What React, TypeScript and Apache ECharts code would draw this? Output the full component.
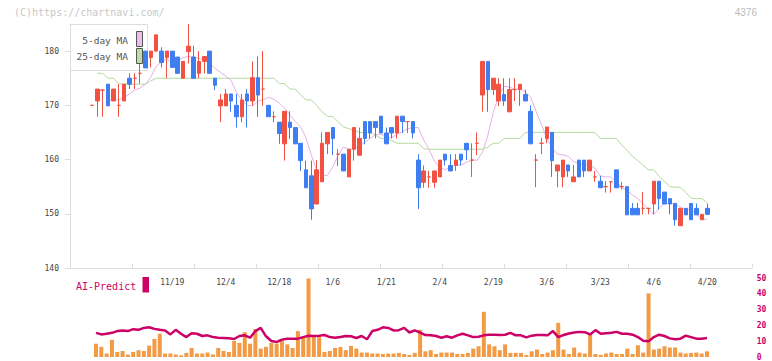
import React, { useEffect, useRef } from 'react';
import * as echarts from 'echarts';

// ---- Price data (one entry per trading day) ----
const OPEN = [
  170.0, 170.8, 172.8, 173.9, 170.8, 170.0, 170.8, 175.0, 175.0, 175.9,
  180.0, 178.8, 180.0, 180.0, 178.8, 180.0, 178.9, 175.0, 179.9, 178.9,
  175.9, 178.1, 180.0, 175.0, 169.9, 169.9, 172.1, 170.0, 167.9, 172.1,
  170.8, 175.1, 173.0, 170.0, 167.9, 166.9, 162.9, 166.9, 165.9, 163.0,
  158.1, 157.0, 151.8, 155.9, 162.9, 165.9, 161.0, 161.0, 156.8, 161.9,
  160.8, 167.0, 167.0, 167.0, 168.0, 164.9, 165.9, 164.9, 168.0, 167.0,
  167.0, 159.9, 155.8, 156.8, 155.8, 156.8, 161.0, 158.9, 158.9, 161.0,
  163.0, 159.9, 163.0, 171.9, 178.1, 172.9, 170.8, 172.0, 168.8, 172.9,
  172.9, 172.0, 168.9, 159.9, 163.0, 163.9, 165.0, 157.9, 156.8, 159.0,
  155.9, 159.9, 159.9, 157.9, 156.8, 156.0, 155.0, 155.9, 158.1, 155.0,
  155.0, 151.0, 151.0, 151.0, 151.0, 151.8, 156.0, 154.0, 152.8, 151.9,
  147.8, 151.0, 151.9, 151.0, 148.9, 151.0,
];
const CLOSE = [
  170.0, 173.0, 172.8, 169.9, 173.0, 170.0, 173.9, 173.9, 175.0, 175.9,
  176.9, 180.0, 183.0, 177.9, 180.0, 177.0, 175.9, 178.1, 180.9, 175.0,
  178.1, 179.0, 175.9, 173.7, 171.0, 172.1, 170.8, 167.9, 171.0, 170.8,
  175.1, 171.9, 173.0, 167.9, 167.9, 164.8, 168.9, 165.9, 162.9, 159.8,
  154.8, 150.9, 158.1, 163.0, 165.0, 163.9, 161.0, 157.9, 161.9, 165.9,
  163.9, 163.9, 164.9, 165.9, 164.9, 162.9, 164.9, 168.0, 167.0, 167.0,
  164.9, 154.8, 157.9, 156.8, 157.9, 159.9, 159.9, 157.9, 159.9, 159.9,
  161.8, 159.9, 163.0, 178.1, 172.9, 175.0, 173.9, 170.8, 172.9, 172.9,
  173.9, 170.8, 162.9, 159.9, 163.0, 166.0, 159.8, 159.0, 159.9, 157.9,
  156.8, 156.8, 157.9, 159.9, 156.8, 154.8, 155.0, 155.9, 154.8, 155.0,
  149.8, 149.8, 149.8, 151.0, 151.0, 156.0, 152.8, 151.8, 151.8, 148.9,
  151.0, 149.8, 148.9, 149.8, 149.9, 149.9,
];
const LOW = [
  169.9, 167.9, 167.9, 169.9, 170.8, 167.9, 170.8, 173.0, 173.0, 174.0,
  176.9, 177.0, 180.0, 177.0, 175.0, 177.0, 175.9, 175.0, 177.7, 175.0,
  175.0, 175.9, 175.9, 172.8, 166.9, 169.9, 168.8, 165.9, 166.9, 165.9,
  169.9, 167.9, 169.9, 167.9, 166.9, 162.9, 159.8, 163.8, 162.9, 157.9,
  154.8, 148.9, 151.8, 155.9, 161.0, 160.8, 158.8, 157.9, 156.8, 159.8,
  160.8, 162.8, 163.9, 163.9, 164.9, 162.9, 163.9, 163.9, 164.9, 164.9,
  163.9, 150.9, 154.8, 154.8, 154.8, 156.8, 158.9, 157.9, 157.9, 158.9,
  159.9, 156.8, 160.8, 168.8, 168.8, 171.9, 169.9, 169.9, 168.8, 170.8,
  169.9, 170.8, 162.9, 154.9, 161.0, 163.0, 156.8, 154.9, 154.9, 156.8,
  155.9, 156.8, 156.8, 157.9, 155.9, 154.8, 153.9, 153.9, 154.8, 154.5,
  149.8, 149.8, 149.8, 149.9, 149.9, 149.9, 150.8, 151.8, 149.9, 147.8,
  147.8, 149.8, 148.9, 149.8, 148.9, 149.9,
];
const HIGH = [
  170.1, 173.0, 173.0, 173.9, 173.0, 173.9, 173.9, 175.9, 175.9, 179.0,
  180.0, 180.0, 183.0, 180.7, 180.0, 180.0, 178.9, 178.1, 185.0, 181.0,
  180.0, 179.0, 180.0, 175.0, 172.1, 173.0, 172.1, 172.1, 172.1, 173.0,
  178.1, 179.0, 180.0, 170.0, 168.9, 166.9, 168.9, 168.9, 165.9, 163.0,
  159.8, 159.8, 159.9, 165.0, 165.0, 165.9, 161.9, 161.0, 161.9, 165.9,
  165.9, 167.0, 167.0, 167.0, 168.0, 165.9, 165.9, 168.0, 168.0, 167.0,
  167.0, 161.0, 158.9, 157.9, 157.9, 159.9, 161.0, 161.0, 161.0, 161.0,
  163.0, 163.0, 165.0, 178.1, 178.1, 175.0, 175.0, 175.0, 175.0, 175.0,
  173.9, 172.9, 170.0, 161.0, 164.0, 166.0, 165.0, 159.0, 159.9, 159.0,
  159.0, 159.9, 159.9, 159.9, 157.9, 157.0, 156.0, 155.9, 158.1, 155.9,
  155.0, 152.0, 152.0, 154.0, 151.0, 156.0, 156.0, 154.0, 152.8, 151.9,
  151.0, 151.0, 151.9, 151.9, 149.9, 151.9,
];

// ---- Moving averages ----
const MA5 = [
  '-', '-', '-', 171.0, 171.0, 171.0, 171.5, 172.1, 172.8, 173.2,
  173.9, 175.2, 177.2, 178.0, 178.6, 177.7, 178.2, 178.8, 179.0, 178.9,
  178.7, 178.3, 177.8, 176.8, 176.1, 175.4, 174.6, 172.4, 171.0, 170.0,
  169.9, 170.8, 171.0, 171.5, 171.1, 170.4, 169.5, 168.2, 167.0, 166.0,
  164.0, 160.8, 158.1, 157.0, 157.1, 158.6, 160.8, 162.3, 161.9, 161.9,
  162.5, 163.2, 163.9, 164.6, 164.7, 164.1, 164.0, 164.7, 165.1, 165.7,
  165.9, 165.9, 163.6, 161.9, 159.7, 158.6, 158.1, 158.6, 159.0, 159.0,
  159.5, 159.9, 159.9, 161.4, 164.5, 168.7, 171.7, 173.5, 173.4, 173.0,
  173.0, 172.5, 171.5, 168.9, 166.5, 163.9, 162.1, 161.0, 160.9, 160.6,
  159.7, 159.2, 159.0, 159.0, 158.4, 157.0, 156.8, 156.8, 155.9, 154.9,
  154.3, 153.5, 152.8, 151.9, 150.8, 149.9, 151.0, 151.9, 151.9, 151.9,
  151.2, 150.8, 150.7, 149.9, 149.0, 149.0,
];
const MA25 = [
  '-', 175.9, 175.9, 175.0, 175.0, 174.0, 173.9, 173.9, 173.9, 173.9,
  173.9, 174.5, 175.0, 175.0, 175.0, 175.0, 175.0, 175.0, 175.0, 175.0,
  175.0, 175.0, 175.0, 175.0, 175.0, 175.0, 175.0, 175.0, 175.0, 175.0,
  175.0, 175.0, 175.0, 175.0, 175.0, 174.0, 174.0, 173.0, 173.0, 171.9,
  171.0, 171.0, 170.0, 168.8, 168.0, 167.9, 167.0, 166.0, 165.7, 165.4,
  165.0, 165.0, 165.0, 164.5, 163.9, 163.9, 163.5, 163.0, 163.0, 163.0,
  163.0, 163.0, 162.0, 161.9, 161.9, 161.9, 161.9, 161.9, 161.9, 161.9,
  161.9, 161.9, 161.9, 161.9, 162.3, 163.0, 163.0, 163.9, 163.9, 163.9,
  163.9, 165.0, 165.0, 165.0, 165.0, 165.0, 165.0, 165.0, 165.0, 165.0,
  165.0, 165.0, 165.0, 165.0, 165.0, 163.9, 163.9, 163.9, 163.9, 162.7,
  161.7, 160.6, 159.8, 159.0, 158.1, 158.1, 156.9, 156.0, 155.0, 154.9,
  154.9, 153.9, 152.9, 152.8, 152.8, 152.0,
];

// ---- Lower panel ----
const VOLUME = [
  8.4, 6.4, 2.2, 10.9, 3.2, 3.8, 1.6, 3.2, 4.3, 3.8,
  7.2, 11.4, 14.7, 2.2, 2.2, 1.6, 1.0, 2.6, 5.7, 2.2,
  2.2, 2.8, 1.6, 5.7, 3.8, 3.2, 10.1, 8.9, 15.7, 8.4,
  17.8, 5.3, 6.4, 8.9, 8.4, 10.5, 8.0, 5.7, 16.4, 12.6,
  49.7, 13.6, 12.6, 3.2, 3.8, 5.7, 6.4, 4.3, 7.0, 5.3,
  2.8, 2.8, 2.2, 2.2, 1.9, 2.2, 2.2, 2.6, 1.9, 1.3,
  2.6, 17.2, 3.6, 4.3, 1.9, 2.8, 2.8, 2.8, 1.9, 1.9,
  2.6, 5.3, 6.8, 28.6, 8.0, 6.8, 4.3, 8.0, 2.6, 2.6,
  2.6, 1.3, 3.6, 4.7, 1.9, 2.8, 4.3, 21.6, 4.7, 1.9,
  6.0, 2.8, 2.2, 15.1, 1.9, 1.3, 2.2, 2.8, 1.9, 1.9,
  5.3, 1.9, 7.4, 2.8, 40.3, 4.7, 5.3, 6.8, 6.0, 6.0,
  2.8, 2.2, 2.6, 2.8, 2.2, 3.6,
];
const AI_PREDICT = [
  15.3, 14.3, 14.7, 15.3, 16.4, 16.8, 16.4, 17.6, 17.2, 18.4,
  18.8, 17.8, 17.2, 16.8, 14.3, 17.2, 14.7, 12.6, 15.1, 14.7,
  13.3, 13.7, 12.6, 12.2, 12.0, 11.8, 11.4, 13.3, 13.7, 12.2,
  16.4, 18.4, 13.1, 10.1, 9.5, 11.0, 11.6, 11.6, 11.6, 12.6,
  13.5, 13.3, 13.5, 13.9, 12.6, 12.2, 12.6, 13.3, 13.1, 12.0,
  13.3, 11.2, 16.4, 17.2, 18.8, 18.4, 16.8, 17.0, 18.4, 15.5,
  16.8, 15.5, 13.9, 13.7, 13.3, 12.2, 13.1, 12.2, 13.7, 14.7,
  13.7, 12.6, 12.8, 13.7, 14.1, 14.1, 13.9, 14.1, 15.3, 13.7,
  13.7, 12.4, 13.5, 13.9, 13.9, 13.7, 16.4, 12.6, 13.9, 14.9,
  15.5, 15.9, 15.7, 14.3, 17.0, 14.7, 15.1, 15.3, 15.9, 14.7,
  14.7, 14.1, 12.6, 10.3, 9.9, 12.6, 14.1, 13.3, 11.8, 11.2,
  11.6, 13.5, 12.6, 11.6, 11.6, 12.0,
];

// ---- Axis labels ----
const DATE_LABELS = ['11/19', '12/4', '12/18', '1/6', '1/21', '2/4', '2/19', '3/6', '3/23', '4/6', '4/20'];
const FIRST_LABEL_INDEX = 15;
const LABEL_STEP = 10;
const PRICE_TICKS = [140, 150, 160, 170, 180];
const SUB_TICKS = [0, 10, 20, 30, 40, 50];

const MONO = '"DejaVu Sans Mono", monospace';
const UP = '#f25242';
const DOWN = '#3f7ef1';
const MA5_COLOR = '#e6b0e6';
const MA25_COLOR = '#b2da9e';
const AI_COLOR = '#cc0066';
const VOL_COLOR = '#f29a44';
const AXIS_COLOR = '#dddddd';

export default function App() {
  const ref = useRef<HTMLDivElement>(null);

  useEffect(() => {
    document.body.style.margin = '0';
    if (!ref.current) return;
    const chart = echarts.init(ref.current, undefined, { renderer: 'svg' });

    const categories = OPEN.map((_, i) => String(i));
    const candles = OPEN.map((o, i) => [o, CLOSE[i], LOW[i], HIGH[i]]);
    const isLabelIndex = (i: number) => i >= FIRST_LABEL_INDEX && (i - FIRST_LABEL_INDEX) % LABEL_STEP === 0;

    const option: any = {
      animation: false,
      grid: [
        { left: 70, right: 20, top: 24, bottom: 93 },
        { left: 89.33, width: 620.6, top: 24, bottom: 93 },
        { left: 93.35, width: 616.3, top: 278, bottom: 3 },
      ],
      xAxis: [
        {
          gridIndex: 0, type: 'value', min: 0, max: 11, interval: 1,
          axisLine: { show: true, lineStyle: { color: AXIS_COLOR, width: 1 } },
          axisTick: { show: true, inside: true, length: 4, lineStyle: { color: AXIS_COLOR } },
          axisLabel: { show: false },
          splitLine: { show: false },
        },
        {
          gridIndex: 1, type: 'category', data: categories, boundaryGap: true,
          axisLine: { show: false }, axisTick: { show: false }, splitLine: { show: false },
          axisLabel: {
            interval: (i: number) => isLabelIndex(i),
            formatter: (_v: string, i: number) => (isLabelIndex(i) ? DATE_LABELS[(i - FIRST_LABEL_INDEX) / LABEL_STEP] : ''),
            fontSize: 8, fontFamily: MONO, color: '#444', margin: 10,
          },
        },
        { gridIndex: 2, type: 'category', data: categories, boundaryGap: true, show: false },
      ],
      yAxis: [
        {
          gridIndex: 0, type: 'value', min: 140, max: 185, interval: 10,
          axisLine: { show: true, lineStyle: { color: AXIS_COLOR } },
          axisTick: { show: true, length: 5, customValues: PRICE_TICKS, lineStyle: { color: AXIS_COLOR } },
          axisLabel: { customValues: PRICE_TICKS, fontSize: 8, fontFamily: MONO, color: '#444', margin: 11 },
          splitLine: { show: false },
        },
        { gridIndex: 1, type: 'value', min: 140, max: 185, show: false },
        {
          gridIndex: 2, type: 'value', min: 0, max: 50, interval: 10, position: 'right',
          axisLine: { show: false }, axisTick: { show: false }, splitLine: { show: false },
          axisLabel: {
            customValues: SUB_TICKS, fontSize: 8, fontFamily: MONO, fontWeight: 'bold',
            color: AI_COLOR, margin: 47, align: 'left',
          },
        },
      ],
      series: [
        {
          type: 'line', name: '25-day MA', xAxisIndex: 1, yAxisIndex: 1, data: MA25,
          showSymbol: false, lineStyle: { color: MA25_COLOR, width: 1 }, z: 1, silent: true,
        },
        {
          type: 'line', name: '5-day MA', xAxisIndex: 1, yAxisIndex: 1, data: MA5,
          showSymbol: false, lineStyle: { color: MA5_COLOR, width: 1 }, z: 1, silent: true,
        },
        {
          type: 'candlestick', xAxisIndex: 1, yAxisIndex: 1, data: candles, barWidth: 4, z: 2,
          itemStyle: {
            color: UP, color0: DOWN, borderColor: UP, borderColor0: DOWN,
            borderColorDoji: UP, borderWidth: 1,
          },
        },
        {
          type: 'bar', xAxisIndex: 2, yAxisIndex: 2, data: VOLUME, barWidth: 4,
          itemStyle: { color: VOL_COLOR }, z: 2,
        },
        {
          type: 'line', name: 'AI-Predict', xAxisIndex: 2, yAxisIndex: 2, data: AI_PREDICT,
          showSymbol: false, lineStyle: { color: AI_COLOR, width: 2.5 }, z: 3,
        },
      ],
      graphic: [
        {
          type: 'text', x: 14, y: 12,
          style: { text: '(C)https://chartnavi.com/', fill: '#c8c8c8', font: `10px ${MONO}`, textVerticalAlign: 'middle' },
        },
        {
          type: 'text', x: 757, y: 12.5,
          style: { text: '4376', fill: '#bbbbbb', font: '10px "Liberation Sans", Arial, sans-serif', textAlign: 'right', textVerticalAlign: 'middle' },
        },
        {
          type: 'rect', z: 0,
          shape: { x: 70.5, y: 24.5, width: 77, height: 46 },
          style: { fill: '#ffffff', stroke: '#dddddd', lineWidth: 1 },
        },
        {
          type: 'text', x: 128, y: 40.7, z: 1,
          style: { text: '5-day MA', fill: '#555', font: `9.5px ${MONO}`, textAlign: 'right', textVerticalAlign: 'middle' },
        },
        {
          type: 'text', x: 128, y: 56.7, z: 1,
          style: { text: '25-day MA', fill: '#555', font: `9.5px ${MONO}`, textAlign: 'right', textVerticalAlign: 'middle' },
        },
        {
          type: 'rect', z: 100,
          shape: { x: 136.5, y: 31.5, width: 6, height: 15 },
          style: { fill: '#ecbcec', stroke: '#555', lineWidth: 1 },
        },
        {
          type: 'rect', z: 100,
          shape: { x: 136.5, y: 48.5, width: 6, height: 15 },
          style: { fill: '#bcdcac', stroke: '#555', lineWidth: 1 },
        },
        {
          type: 'text', x: 76, y: 286,
          style: { text: 'AI-Predict', fill: AI_COLOR, font: `10px ${MONO}`, textVerticalAlign: 'middle' },
        },
        {
          type: 'rect',
          shape: { x: 142.5, y: 277, width: 6.5, height: 15.5 },
          style: { fill: AI_COLOR },
        },
      ],
    };

    chart.setOption(option);
    return () => chart.dispose();
  }, []);

  return <div ref={ref} style={{ width: 772, height: 361 }} />;
}
